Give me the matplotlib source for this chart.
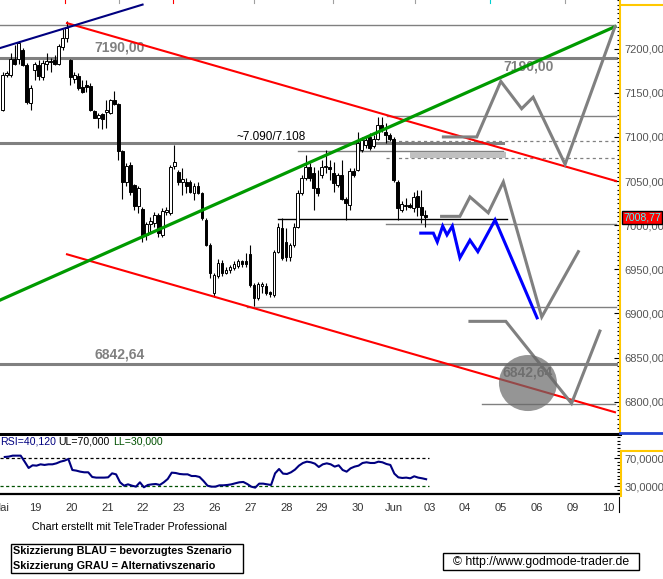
import matplotlib
matplotlib.use('Agg')
import matplotlib.pyplot as plt
from matplotlib.lines import Line2D
from matplotlib.patches import Ellipse, Rectangle
import matplotlib.transforms as mtrans
from matplotlib.ticker import MultipleLocator, FixedLocator

plt.rcParams['font.family'] = ['Liberation Sans', 'DejaVu Sans']

W, H = 663, 579

# ---------------- data ----------------
day_labels = ['Mai', '19', '20', '21', '22', '23', '26', '27', '28', '29', '30',
              'Jun', '03', '04', '05', '06', '09', '10']
price_ticks = [6800, 6850, 6900, 6950, 7000, 7050, 7100, 7150, 7200]
rsi_ticks = [30, 70]

opens = [7130, 7170, 7170, 7188, 7188, 7199, 7182, 7139, 7176, 7182,
         7168, 7183, 7186, 7187, 7183, 7202, 7212, 7187, 7166, 7169,
         7157, 7159, 7158, 7129, 7122, 7126, 7128, 7127, 7142, 7137,
         7084, 7049, 7068, 7045, 7022, 7018, 6989, 7001, 7002, 7012,
         6989, 7015, 7014, 7067, 7060, 7049, 7049, 7049, 7037, 7044,
         7037, 7006, 6978, 6923, 6942, 6957, 6946, 6949, 6951, 6954,
         6959, 6959, 6967, 6932, 6917, 6931, 6931, 6924, 6921, 6970,
         6997, 6981, 6964, 6978, 6998, 7036, 7053, 7066, 7059, 7042,
         7057, 7066, 7066, 7059, 7046, 7057, 7030, 7023, 7061, 7062,
         7085, 7091, 7100, 7090, 7098, 7114, 7106, 7102, 7098, 7049,
         7017, 7022, 7023, 7019, 7033, 7021, 7011]
highs = [7174, 7175, 7195, 7204, 7209, 7201, 7184, 7159, 7185, 7187,
         7187, 7195, 7189, 7193, 7205, 7222, 7231, 7188, 7174, 7172,
         7165, 7165, 7161, 7130, 7127, 7127, 7142, 7143, 7152, 7138,
         7085, 7071, 7072, 7047, 7044, 7021, 7004, 7009, 7015, 7014,
         7019, 7021, 7068, 7091, 7063, 7065, 7053, 7051, 7048, 7049,
         7038, 7008, 6980, 6946, 6962, 6960, 6953, 6955, 6959, 6962,
         6960, 6968, 6978, 6934, 6936, 6936, 6934, 6925, 6972, 7002,
         7008, 6997, 6980, 7003, 7040, 7057, 7080, 7071, 7066, 7063,
         7074, 7085, 7074, 7072, 7059, 7074, 7032, 7065, 7065, 7106,
         7100, 7100, 7104, 7102, 7123, 7123, 7116, 7104, 7100, 7051,
         7027, 7031, 7025, 7038, 7040, 7040, 7017]
lows = [7129, 7168, 7168, 7181, 7183, 7180, 7137, 7131, 7165, 7165,
        7164, 7176, 7174, 7181, 7181, 7198, 7208, 7159, 7161, 7153,
        7150, 7151, 7129, 7121, 7110, 7109, 7110, 7126, 7136, 7074,
        7030, 7044, 7034, 7017, 7014, 6981, 6983, 6992, 6998, 6987,
        6987, 7012, 7012, 7064, 7046, 7034, 7036, 7036, 7028, 7035,
        7006, 6976, 6940, 6919, 6940, 6942, 6945, 6946, 6949, 6952,
        6953, 6953, 6930, 6908, 6915, 6923, 6921, 6919, 6919, 6968,
        6961, 6959, 6959, 6975, 6997, 7034, 7051, 7050, 7017, 7033,
        7053, 7059, 7051, 7038, 7043, 7028, 7006, 7017, 7055, 7061,
        7083, 7087, 7085, 7087, 7096, 7106, 7093, 7095, 7049, 7006,
        7015, 7017, 7019, 7015, 7010, 7002, 6998]
closes = [7170, 7172, 7188, 7183, 7206, 7181, 7140, 7156, 7183, 7169,
          7184, 7186, 7185, 7183, 7203, 7212, 7223, 7168, 7170, 7155,
          7151, 7157, 7130, 7122, 7125, 7120, 7130, 7142, 7137, 7084,
          7049, 7067, 7038, 7022, 7042, 6988, 7001, 7005, 7012, 6991,
          7016, 7017, 7066, 7072, 7049, 7052, 7044, 7038, 7044, 7037,
          7008, 6978, 6946, 6944, 6957, 6946, 6949, 6953, 6956, 6959,
          6956, 6956, 6932, 6917, 6933, 6933, 6923, 6922, 6970, 6998,
          6963, 6964, 6978, 6998, 7036, 7053, 7066, 7053, 7042, 7036,
          7066, 7067, 7064, 7048, 7057, 7030, 7025, 7061, 7057, 7093,
          7097, 7097, 7087, 7098, 7114, 7108, 7102, 7098, 7051, 7019,
          7024, 7023, 7021, 7032, 7021, 7012, 7008.77]
rsi = [71.9, 72.4, 73.8, 73.8, 73.8, 65.2, 56.2, 60.0, 59.5, 61.4,
       60.5, 61.4, 61.4, 62.8, 65.2, 66.6, 69.0, 53.3, 52.4, 50.9,
       50.0, 50.0, 43.3, 42.4, 42.4, 42.4, 42.8, 48.5, 47.1, 35.7,
       30.9, 32.8, 30.9, 29.5, 35.7, 28.6, 31.9, 32.8, 33.3, 31.9,
       35.7, 40.5, 49.5, 49.0, 47.6, 47.1, 47.1, 44.7, 44.7, 43.3,
       37.6, 30.9, 29.5, 29.5, 31.4, 31.4, 31.9, 32.8, 34.3, 35.7,
       36.2, 33.3, 29.5, 28.1, 33.8, 33.8, 32.8, 31.9, 48.5, 54.7,
       48.1, 47.6, 50.0, 53.8, 59.5, 63.3, 65.2, 64.3, 62.4, 57.6,
       61.4, 62.8, 61.4, 58.1, 60.0, 53.3, 50.9, 55.7, 58.1, 59.5,
       63.3, 64.3, 63.3, 63.3, 65.2, 64.3, 61.9, 60.5, 48.1, 42.8,
       41.9, 42.4, 41.4, 44.3, 42.4, 41.4, 40.12]

# scenario sketches (day position, price)
blue_x = [11.78, 12.13, 12.24, 12.39, 12.51, 12.66, 12.87, 13.15, 13.37, 13.85, 15.02]
blue_y = [6991, 6991, 6981, 6999, 6989, 6999, 6963, 6983, 6970, 7006, 6895]
grayA_x = [12.41, 13.34, 14.01, 14.59, 14.91, 15.80, 17.19]
grayA_y = [7100, 7100, 7163, 7132, 7145, 7069, 7225]
grayB_x = [12.36, 12.87, 13.15, 13.66, 14.08, 15.15, 16.17]
grayB_y = [7010, 7010, 7032, 7014, 7049, 6896, 6970]
grayC_x = [13.15, 14.15, 15.98, 16.77]
grayC_y = [6891, 6891, 6798, 6880]

# trend lines
red_up_x, red_up_y = [1.925, 17.22], [7229, 7050]
red_lo_x, red_lo_y = [1.925, 17.19], [6967, 6788]
green_x, green_y = [0.0, 17.19], [6914, 7225]
navy_x, navy_y = [0.0, 4.03], [7200, 7250]

# horizontal levels: (price, x_from, x_to, width, style, color)
levels = [
    (7227.0, 0.0, 17.19, 1.0, '-', '#808080'),
    (7190.0, 0.0, 17.22, 2.2, '-', '#808080'),
    (7124.0, 10.84, 17.22, 1.0, '-', '#808080'),
    (7093.4, 0.0, 14.07, 2.2, '-', '#808080'),
    (7095.0, 10.81, 17.22, 0.9, '--', '#808080'),
    (7083.5, 8.36, 14.07, 1.0, '-', '#808080'),
    (7076.0, 10.81, 17.22, 0.9, '--', '#808080'),
    (7007.0, 7.80, 14.18, 1.0, '-', '#000000'),
    (7000.8, 10.81, 17.22, 1.0, '-', '#808080'),
    (6906.7, 6.94, 17.22, 1.0, '-', '#808080'),
    (6842.64, 0.0, 17.22, 2.2, '-', '#808080'),
    (6797.0, 13.48, 17.19, 1.0, '-', '#808080'),
]
band_x, band_lo, band_hi = [11.48, 14.15], 7076, 7083

# ---------------- figure ----------------
fig = plt.figure(figsize=(W / 100, H / 100), dpi=100)
fig.patch.set_facecolor('white')


def fx(px):
    return px / W


def fy(py):
    return 1 - py / H


XL = (0.0585, 17.33)

ax = fig.add_axes([0, fy(433.5), fx(620), 433.5 / H])
ax.set_xlim(*XL)
ax.set_ylim(6763.9, 7255.2)
for s in ['left', 'top']:
    ax.spines[s].set_visible(False)
ax.spines['bottom'].set_linewidth(2.2)
ax.spines['bottom'].set_color('black')
ax.spines['right'].set_color('#ffc800')
ax.spines['right'].set_linewidth(1.5)
ax.set_xticks([])
ax.yaxis.tick_right()
ax.yaxis.set_major_locator(FixedLocator(price_ticks))
ax.yaxis.set_minor_locator(MultipleLocator(5))
ax.tick_params(axis='y', which='major', direction='in', length=4, width=0.8,
               color='black', labelsize=8, labelcolor='#555555', pad=3)
ax.tick_params(axis='y', which='minor', direction='in', length=2, width=0.8, color='black')
ax.yaxis.set_major_formatter(plt.FuncFormatter(lambda v, p: f"{v:.2f}".replace('.', ',')))

# horizontal levels
for (pv, x0, x1, lw, ls, col) in levels:
    if ls == '--':
        ax.plot([x0, x1], [pv, pv], color=col, lw=lw, dashes=(2.5, 2.5), zorder=1)
    else:
        ax.plot([x0, x1], [pv, pv], color=col, lw=lw, zorder=1)
ax.fill_between(band_x, band_lo, band_hi, color='#c0c0c0', lw=0, zorder=1)

# candles
xs = [(i + 1.2) / 9 for i in range(len(opens))]
ax.vlines(xs, lows, highs, color='black', lw=0.8, zorder=2)
bottoms = [min(o, c) for o, c in zip(opens, closes)]
heights = [max(abs(c - o), 0.9) for o, c in zip(opens, closes)]
faces = ['white' if c >= o else 'black' for o, c in zip(opens, closes)]
ax.bar(xs, heights, bottom=bottoms, width=0.075, color=faces, edgecolor='black',
       linewidth=0.7, zorder=3)

# trend lines
ax.plot(red_up_x, red_up_y, color='#ff0000', lw=1.5, zorder=4)
ax.plot(red_lo_x, red_lo_y, color='#ff0000', lw=1.5, zorder=4)
ax.plot(green_x, green_y, color='#009a00', lw=2.3, zorder=4)
ax.plot(navy_x, navy_y, color='#000080', lw=1.5, zorder=4)

# scenario sketches
ax.plot(grayA_x, grayA_y, color='#808080', lw=2.2, zorder=5, solid_joinstyle='miter')
ax.plot(grayB_x, grayB_y, color='#808080', lw=2.2, zorder=5, solid_joinstyle='miter')
ax.plot(grayC_x, grayC_y, color='#808080', lw=2.2, zorder=5, solid_joinstyle='miter')
ax.plot(blue_x, blue_y, color='#0000ff', lw=2.2, zorder=5, solid_joinstyle='miter')

# level labels
lab_kw = dict(fontsize=10, fontweight='bold', color='#808080', ha='center', va='center', zorder=2)
ax.text(3.40, 7200.8, '7190,00', **lab_kw)
ax.text(14.77, 7179.3, '7190,00', **lab_kw)
ax.text(3.40, 6852.9, '6842,64', **lab_kw)
ax.text(14.77, 6832.5, '6842,64', **lab_kw)
ax.text(6.66, 7099.9, '~7.090/7.108', fontsize=8.5, color='black', ha='left', va='center', zorder=2)

# gray circle
ax.add_patch(Ellipse((14.766, 6821.1), 1.616, 63.5, facecolor='#696969', alpha=0.7,
                     edgecolor='none', zorder=7))

# last price box
tr = mtrans.blended_transform_factory(ax.transAxes, ax.transData)
ax.text(1.0 + 3.0 / 620, closes[-1], f"{closes[-1]:.2f}".replace('.', ','), transform=tr,
        fontsize=7.6, color='#40ffff', ha='left', va='center', clip_on=False, zorder=8,
        bbox=dict(facecolor='#ff0000', edgecolor='black', linewidth=1, pad=1.0))

# ---------------- RSI panel ----------------
ax2 = fig.add_axes([0, fy(494.3), fx(620), (494.3 - 436) / H])
ax2.set_xlim(*XL)
ax2.set_ylim(18.57, 101.86)
for s in ['left', 'top', 'right']:
    ax2.spines[s].set_visible(False)
ax2.spines['bottom'].set_linewidth(1.6)
ax2.plot(xs, rsi, color='#000080', lw=1.5, zorder=3)
ax2.plot([0, 12.0], [70, 70], color='black', lw=0.9, dashes=(2.5, 2.0), zorder=2)
ax2.plot([0, 12.0], [30, 30], color='#005000', lw=0.9, dashes=(2.5, 2.0), zorder=2)
ax2.yaxis.tick_right()
ax2.yaxis.set_major_locator(FixedLocator(rsi_ticks))
ax2.yaxis.set_minor_locator(MultipleLocator(5))
ax2.yaxis.set_major_formatter(plt.FuncFormatter(lambda v, p: f"{v:.4f}".replace('.', ',')))
ax2.tick_params(axis='y', which='major', direction='in', length=4, width=0.8, color='black',
                labelsize=8, labelcolor='#555555', pad=3)
ax2.tick_params(axis='y', which='minor', direction='in', length=2, width=0.8, color='black')
ax2.set_xticks(range(len(day_labels)))
ax2.set_xticklabels(day_labels)
ax2.tick_params(axis='x', length=0, pad=6, labelsize=8, labelcolor='#333333')

# RSI caption
fig.text(fx(0), fy(441.7), 'RSI=40,120', color='#000080', fontsize=7.6, va='center', ha='left')
fig.text(fx(58), fy(441.7), 'UL=70,000', color='black', fontsize=7.6, va='center', ha='left')
fig.text(fx(113), fy(441.7), 'LL=30,000', color='#005000', fontsize=7.6, va='center', ha='left')

# ---------------- frame decorations ----------------
def fline(xp, yp, color, lw):
    fig.add_artist(Line2D([fx(v) for v in xp], [fy(v) for v in yp], color=color, lw=lw))

fline([620, 663], [5, 5], '#ffc800', 1.5)
fline([620, 663], [432.8, 432.8], '#2040d0', 2.0)
fline([620.5, 620.5], [450.7, 495.7], '#ffc800', 1.5)
fline([620.5, 663], [450.7, 450.7], '#ffc800', 1.5)
fline([618.6, 618.6], [496.7, 511.7], 'black', 0.8)
for xp, col in [(65, '#ff0000'), (173, '#ff0000'), (119, '#a0a0a0'), (254, '#a0a0a0'),
                (333, '#a0a0a0'), (415, '#a0a0a0'), (490, '#00d0d0'), (565, '#a0a0a0')]:
    fline([xp, xp], [0, 3], col, 0.8)

# bottom texts
fig.text(fx(31.7), fy(527.5), 'Chart erstellt mit TeleTrader Professional', fontsize=7.7,
         color='black', va='center', ha='left')
fig.add_artist(Rectangle((fx(10.6), fy(573)), fx(243) - fx(10.6), (573 - 544) / H,
                         transform=fig.transFigure, fill=False, edgecolor='black', lw=1))
fig.text(fx(13), fy(551.5), 'Skizzierung BLAU = bevorzugtes Szenario', fontsize=7.8,
         fontweight='bold', color='black', va='center', ha='left')
fig.text(fx(13), fy(566), 'Skizzierung GRAU = Alternativszenario', fontsize=7.8,
         fontweight='bold', color='black', va='center', ha='left')
fig.add_artist(Rectangle((fx(443), fy(569.5)), fx(639) - fx(443), (569.5 - 553) / H,
                         transform=fig.transFigure, fill=False, edgecolor='black', lw=1))
fig.text(fx(541), fy(561.5), '\u00a9 http://www.godmode-trader.de', fontsize=8.8,
         color='black', va='center', ha='center')

fig.savefig('out.png', dpi=100, facecolor='white')
